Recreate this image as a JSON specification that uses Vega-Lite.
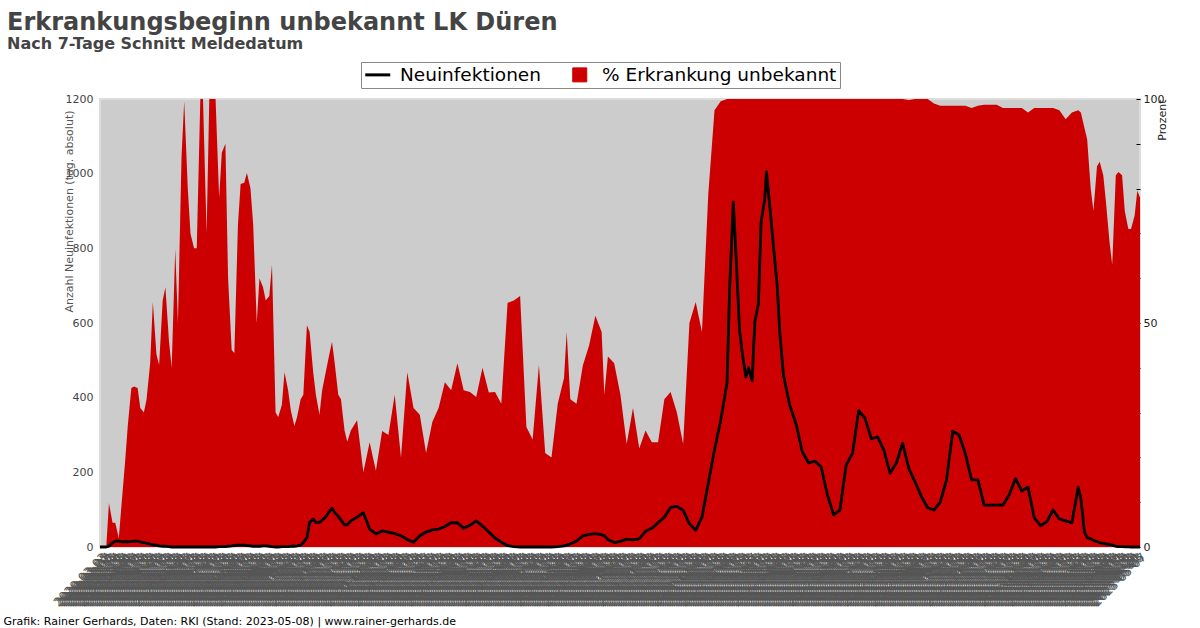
{
 "$schema": "https://vega.github.io/schema/vega-lite/v6.json",
 "width": 1040, "height": 448,
 "autosize": {"type": "none"},
 "padding": {"left": 100, "top": 99, "right": 60, "bottom": 81},
 "background": "white",
 "config": {"font": "DejaVu Sans", "view": {"fill": "#cccccc", "stroke": "#dddddd", "strokeWidth": 2}},
 "title": {"text": "Erkrankungsbeginn unbekannt LK Düren", "subtitle": "Nach 7-Tage Schnitt Meldedatum", "anchor": "start", "frame": "group", "dx": -93, "fontSize": 24, "fontWeight": "bold", "color": "#444444", "subtitleFontSize": 16, "subtitleFontWeight": "bold", "subtitleColor": "#444444", "subtitlePadding": 1, "offset": 10},
 "data": {"values": [
{"datum":"2020-03-02","prozent":0,"neu":0},{"datum":"2020-03-05","prozent":0,"neu":0},{"datum":"2020-03-09","prozent":0,"neu":0},{"datum":"2020-03-12","prozent":9.8,"neu":2},
{"datum":"2020-03-16","prozent":5.4,"neu":11},{"datum":"2020-03-19","prozent":5.4,"neu":16},{"datum":"2020-03-23","prozent":2,"neu":16},{"datum":"2020-03-26","prozent":9.4,"neu":14},
{"datum":"2020-03-30","prozent":19,"neu":14},{"datum":"2020-04-02","prozent":27,"neu":14},{"datum":"2020-04-06","prozent":35.5,"neu":15},{"datum":"2020-04-09","prozent":35.8,"neu":16},
{"datum":"2020-04-13","prozent":35.5,"neu":16},{"datum":"2020-04-16","prozent":31,"neu":14},{"datum":"2020-04-20","prozent":30,"neu":12},{"datum":"2020-04-23","prozent":33,"neu":10},
{"datum":"2020-04-27","prozent":41,"neu":8},{"datum":"2020-04-30","prozent":54.7,"neu":6},{"datum":"2020-05-04","prozent":43,"neu":5},{"datum":"2020-05-07","prozent":40.6,"neu":3},
{"datum":"2020-05-11","prozent":55,"neu":2},{"datum":"2020-05-14","prozent":58,"neu":2},{"datum":"2020-05-18","prozent":46,"neu":1},{"datum":"2020-05-21","prozent":40,"neu":0},
{"datum":"2020-05-25","prozent":66.5,"neu":0},{"datum":"2020-05-28","prozent":50,"neu":0},{"datum":"2020-06-01","prozent":87,"neu":0},{"datum":"2020-06-04","prozent":99.5,"neu":0},
{"datum":"2020-06-08","prozent":80,"neu":0},{"datum":"2020-06-11","prozent":70,"neu":0},{"datum":"2020-06-15","prozent":66.7,"neu":0},{"datum":"2020-06-18","prozent":66.7,"neu":0},
{"datum":"2020-06-22","prozent":100,"neu":0},{"datum":"2020-06-25","prozent":100,"neu":0},{"datum":"2020-06-29","prozent":70,"neu":0},{"datum":"2020-07-02","prozent":100,"neu":0},
{"datum":"2020-07-06","prozent":100,"neu":0},{"datum":"2020-07-09","prozent":100,"neu":0},{"datum":"2020-07-13","prozent":78,"neu":1},{"datum":"2020-07-16","prozent":88,"neu":1},
{"datum":"2020-07-20","prozent":90,"neu":1},{"datum":"2020-07-23","prozent":60,"neu":2},{"datum":"2020-07-27","prozent":44,"neu":3},{"datum":"2020-07-30","prozent":43.3,"neu":4},
{"datum":"2020-08-03","prozent":72,"neu":5},{"datum":"2020-08-06","prozent":81,"neu":5},{"datum":"2020-08-10","prozent":81.3,"neu":5},{"datum":"2020-08-13","prozent":83.5,"neu":4},
{"datum":"2020-08-17","prozent":80,"neu":3},{"datum":"2020-08-20","prozent":72,"neu":2},{"datum":"2020-08-24","prozent":50,"neu":2},{"datum":"2020-08-27","prozent":60,"neu":2},
{"datum":"2020-08-31","prozent":58,"neu":3},{"datum":"2020-09-03","prozent":55,"neu":3},{"datum":"2020-09-07","prozent":56,"neu":2},{"datum":"2020-09-10","prozent":63,"neu":1},
{"datum":"2020-09-14","prozent":30,"neu":0},{"datum":"2020-09-17","prozent":29,"neu":0},{"datum":"2020-09-21","prozent":31.7,"neu":1},{"datum":"2020-09-24","prozent":39,"neu":1},
{"datum":"2020-09-28","prozent":35,"neu":1},{"datum":"2020-10-01","prozent":30.5,"neu":2},{"datum":"2020-10-05","prozent":27,"neu":2},{"datum":"2020-10-08","prozent":29,"neu":3},
{"datum":"2020-10-12","prozent":33,"neu":5},{"datum":"2020-10-15","prozent":34,"neu":12},{"datum":"2020-10-19","prozent":49.5,"neu":25},{"datum":"2020-10-22","prozent":48,"neu":66},
{"datum":"2020-10-26","prozent":39,"neu":75},{"datum":"2020-10-29","prozent":34,"neu":66},{"datum":"2020-11-02","prozent":29.5,"neu":66},{"datum":"2020-11-05","prozent":35,"neu":72},
{"datum":"2020-11-09","prozent":39,"neu":80},{"datum":"2020-11-12","prozent":42,"neu":92},{"datum":"2020-11-16","prozent":45.8,"neu":104},{"datum":"2020-11-19","prozent":41,"neu":92},
{"datum":"2020-11-23","prozent":34,"neu":82},{"datum":"2020-11-26","prozent":33,"neu":72},{"datum":"2020-11-30","prozent":26,"neu":59},{"datum":"2020-12-03","prozent":23.5,"neu":59},
{"datum":"2020-12-07","prozent":26,"neu":70},{"datum":"2020-12-14","prozent":28.3,"neu":80},{"datum":"2020-12-21","prozent":16.7,"neu":92},{"datum":"2020-12-28","prozent":23.4,"neu":48},
{"datum":"2021-01-04","prozent":17,"neu":35},{"datum":"2021-01-11","prozent":25.9,"neu":43},{"datum":"2021-01-18","prozent":25,"neu":40},{"datum":"2021-01-25","prozent":34,"neu":36},
{"datum":"2021-02-01","prozent":19.9,"neu":30},{"datum":"2021-02-08","prozent":39,"neu":20},{"datum":"2021-02-15","prozent":31,"neu":13},{"datum":"2021-02-22","prozent":29.5,"neu":30},
{"datum":"2021-03-01","prozent":21,"neu":40},{"datum":"2021-03-08","prozent":27.9,"neu":46},{"datum":"2021-03-15","prozent":31,"neu":48},{"datum":"2021-03-22","prozent":36.8,"neu":55},
{"datum":"2021-03-29","prozent":35,"neu":65},{"datum":"2021-04-05","prozent":41,"neu":65},{"datum":"2021-04-12","prozent":35,"neu":50},{"datum":"2021-04-19","prozent":34.6,"neu":58},
{"datum":"2021-04-26","prozent":33.5,"neu":70},{"datum":"2021-05-03","prozent":40,"neu":56},{"datum":"2021-05-10","prozent":34.5,"neu":40},{"datum":"2021-05-17","prozent":34.6,"neu":24},
{"datum":"2021-05-24","prozent":32,"neu":13},{"datum":"2021-05-31","prozent":54.5,"neu":4},{"datum":"2021-06-07","prozent":55,"neu":1},{"datum":"2021-06-14","prozent":56,"neu":0},
{"datum":"2021-06-21","prozent":26.8,"neu":0},{"datum":"2021-06-28","prozent":24,"neu":0},{"datum":"2021-07-05","prozent":40.6,"neu":0},{"datum":"2021-07-12","prozent":21,"neu":0},
{"datum":"2021-07-19","prozent":20,"neu":0},{"datum":"2021-07-26","prozent":32,"neu":1},{"datum":"2021-08-02","prozent":37.7,"neu":3},{"datum":"2021-08-05","prozent":48,"neu":5},
{"datum":"2021-08-09","prozent":33,"neu":8},{"datum":"2021-08-16","prozent":32,"neu":16},{"datum":"2021-08-23","prozent":40.5,"neu":30},{"datum":"2021-08-30","prozent":45,"neu":34},
{"datum":"2021-09-06","prozent":51.6,"neu":36},{"datum":"2021-09-13","prozent":48,"neu":33},{"datum":"2021-09-16","prozent":34,"neu":30},{"datum":"2021-09-20","prozent":42.5,"neu":20},
{"datum":"2021-09-27","prozent":41,"neu":12},{"datum":"2021-10-04","prozent":34,"neu":15},{"datum":"2021-10-11","prozent":23,"neu":21},{"datum":"2021-10-18","prozent":31,"neu":19},
{"datum":"2021-10-25","prozent":22,"neu":22},{"datum":"2021-11-01","prozent":26,"neu":42},{"datum":"2021-11-08","prozent":23.4,"neu":50},{"datum":"2021-11-15","prozent":23.4,"neu":65},
{"datum":"2021-11-22","prozent":33,"neu":80},{"datum":"2021-11-29","prozent":34.6,"neu":106},{"datum":"2021-12-06","prozent":30,"neu":109},{"datum":"2021-12-13","prozent":23,"neu":98},
{"datum":"2021-12-20","prozent":50,"neu":62},{"datum":"2021-12-27","prozent":54.7,"neu":45},{"datum":"2022-01-03","prozent":48,"neu":80},{"datum":"2022-01-10","prozent":78.6,"neu":170},
{"datum":"2022-01-17","prozent":97.5,"neu":260},{"datum":"2022-01-24","prozent":99.5,"neu":340},{"datum":"2022-01-31","prozent":100,"neu":440},{"datum":"2022-02-03","prozent":100,"neu":700},
{"datum":"2022-02-07","prozent":100,"neu":924},{"datum":"2022-02-10","prozent":100,"neu":780},{"datum":"2022-02-14","prozent":100,"neu":580},{"datum":"2022-02-17","prozent":100,"neu":520},
{"datum":"2022-02-21","prozent":100,"neu":455},{"datum":"2022-02-24","prozent":100,"neu":480},{"datum":"2022-02-28","prozent":100,"neu":445},{"datum":"2022-03-03","prozent":100,"neu":603},
{"datum":"2022-03-07","prozent":100,"neu":650},{"datum":"2022-03-10","prozent":100,"neu":870},{"datum":"2022-03-14","prozent":100,"neu":930},{"datum":"2022-03-16","prozent":100,"neu":1005},
{"datum":"2022-03-21","prozent":100,"neu":880},{"datum":"2022-03-24","prozent":100,"neu":800},{"datum":"2022-03-28","prozent":100,"neu":700},{"datum":"2022-03-31","prozent":100,"neu":570},
{"datum":"2022-04-04","prozent":100,"neu":460},{"datum":"2022-04-11","prozent":100,"neu":380},{"datum":"2022-04-18","prozent":100,"neu":330},{"datum":"2022-04-25","prozent":100,"neu":255},
{"datum":"2022-05-02","prozent":100,"neu":225},{"datum":"2022-05-09","prozent":100,"neu":230},{"datum":"2022-05-16","prozent":100,"neu":215},{"datum":"2022-05-23","prozent":100,"neu":140},
{"datum":"2022-05-30","prozent":100,"neu":86},{"datum":"2022-06-06","prozent":100,"neu":99},{"datum":"2022-06-13","prozent":100,"neu":220},{"datum":"2022-06-20","prozent":100,"neu":250},
{"datum":"2022-06-27","prozent":100,"neu":365},{"datum":"2022-07-04","prozent":100,"neu":345},{"datum":"2022-07-11","prozent":100,"neu":290},{"datum":"2022-07-18","prozent":100,"neu":295},
{"datum":"2022-07-25","prozent":100,"neu":260},{"datum":"2022-08-01","prozent":100,"neu":198},{"datum":"2022-08-08","prozent":100,"neu":225},{"datum":"2022-08-15","prozent":100,"neu":278},
{"datum":"2022-08-22","prozent":99.8,"neu":210},{"datum":"2022-08-29","prozent":100,"neu":174},{"datum":"2022-09-05","prozent":100,"neu":135},{"datum":"2022-09-12","prozent":100,"neu":105},
{"datum":"2022-09-19","prozent":99,"neu":99},{"datum":"2022-09-26","prozent":98.5,"neu":120},{"datum":"2022-10-03","prozent":98.5,"neu":180},{"datum":"2022-10-10","prozent":98.5,"neu":310},
{"datum":"2022-10-17","prozent":98.5,"neu":300},{"datum":"2022-10-24","prozent":98.5,"neu":250},{"datum":"2022-10-31","prozent":98,"neu":180},{"datum":"2022-11-07","prozent":98.5,"neu":180},
{"datum":"2022-11-14","prozent":98.7,"neu":112},{"datum":"2022-11-21","prozent":98.7,"neu":112},{"datum":"2022-11-28","prozent":98.7,"neu":113},{"datum":"2022-12-05","prozent":98,"neu":112},
{"datum":"2022-12-12","prozent":98,"neu":140},{"datum":"2022-12-19","prozent":98,"neu":183},{"datum":"2022-12-26","prozent":98,"neu":150},{"datum":"2023-01-02","prozent":97,"neu":160},
{"datum":"2023-01-09","prozent":98,"neu":78},{"datum":"2023-01-16","prozent":98,"neu":57},{"datum":"2023-01-23","prozent":98,"neu":68},{"datum":"2023-01-30","prozent":98,"neu":99},
{"datum":"2023-02-06","prozent":97.5,"neu":75},{"datum":"2023-02-13","prozent":95.5,"neu":70},{"datum":"2023-02-20","prozent":97,"neu":65},{"datum":"2023-02-27","prozent":97.5,"neu":160},
{"datum":"2023-03-02","prozent":97,"neu":130},{"datum":"2023-03-06","prozent":93.5,"neu":40},{"datum":"2023-03-09","prozent":91,"neu":25},{"datum":"2023-03-13","prozent":80,"neu":22},
{"datum":"2023-03-16","prozent":75,"neu":18},{"datum":"2023-03-20","prozent":85,"neu":14},{"datum":"2023-03-23","prozent":86,"neu":12},{"datum":"2023-03-27","prozent":83,"neu":10},
{"datum":"2023-03-30","prozent":77,"neu":8},{"datum":"2023-04-03","prozent":68,"neu":7},{"datum":"2023-04-06","prozent":63,"neu":5},{"datum":"2023-04-10","prozent":83,"neu":2},
{"datum":"2023-04-13","prozent":83.7,"neu":1},{"datum":"2023-04-17","prozent":83,"neu":1},{"datum":"2023-04-20","prozent":75,"neu":0.5},{"datum":"2023-04-24","prozent":71,"neu":0.5},
{"datum":"2023-04-27","prozent":71,"neu":0},{"datum":"2023-05-01","prozent":74,"neu":0},{"datum":"2023-05-04","prozent":79.5,"neu":0},{"datum":"2023-05-07","prozent":78,"neu":0}
 ]},
 "encoding": {
  "x": {"field": "datum", "type": "temporal", "scale": {"nice": false},
   "axis": {"title": "Grafik: Rainer Gerhards, Daten: RKI (Stand: 2023-05-08) | www.rainer-gerhards.de",
    "titleX": -97, "titleY": 74, "titleAlign": "left", "titleBaseline": "middle", "titleAngle": 0, "titleFontSize": 11, "titleFontWeight": "normal", "titleColor": "#000000",
    "format": "%Y-%m-%d", "tickCount": {"interval": "day", "step": 2}, "labelAngle": -45, "labelFontSize": 12, "labelColor": "#555555",
    "labelOverlap": false, "labelFlush": false, "labelBound": false, "labelPadding": 4, "ticks": false, "domain": false, "grid": false}}
 },
 "layer": [
  {"mark": {"type": "area", "interpolate": "linear", "opacity": 1},
   "encoding": {
    "y": {"field": "prozent", "type": "quantitative", "scale": {"domain": [0, 100], "nice": false},
     "axis": {"orient": "right", "title": "Prozent", "values": [0,10,20,30,40,50,60,70,80,90,100], "labelExpr": "datum.value % 50 === 0 ? datum.label : ''",
      "grid": false, "domain": false, "ticks": true, "tickSize": -4, "tickColor": "#000000", "labelPadding": 7, "labelFontSize": 11, "labelColor": "#222222",
      "titleX": 22, "titleY": 0, "titleAlign": "right", "titleAngle": -90, "titleBaseline": "middle", "titleFontSize": 11, "titleFontWeight": "normal", "titleColor": "#222222"}},
    "color": {"datum": "% Erkrankung unbekannt", "type": "nominal",
     "scale": {"domain": ["Neuinfektionen", "% Erkrankung unbekannt"], "range": ["#000000", "#cc0000"]},
     "legend": {"orient": "none", "legendX": 261, "legendY": -37, "direction": "horizontal", "title": null,
      "labelFontSize": 18.5, "labelColor": "#000000", "labelLimit": 500, "symbolSize": 625, "fillColor": "#ffffff", "strokeColor": "#888888", "padding": 3.5,
      "columnPadding": 25, "labelOffset": 13, "symbolOffset": 4,
      "encode": {"symbols": {"update": {
        "shape": {"signal": "datum.value === 'Neuinfektionen' ? 'stroke' : 'square'"},
        "size": {"signal": "datum.value === 'Neuinfektionen' ? 625 : 196"},
        "fill": {"signal": "datum.value === 'Neuinfektionen' ? 'transparent' : '#cc0000'"},
        "stroke": {"signal": "datum.value === 'Neuinfektionen' ? '#000000' : '#777777'"},
        "strokeWidth": {"signal": "datum.value === 'Neuinfektionen' ? 3 : 1"},
        "opacity": {"value": 1}}}}}}}},
  {"mark": {"type": "line", "strokeWidth": 2.8, "strokeJoin": "round"},
   "encoding": {
    "y": {"field": "neu", "type": "quantitative", "scale": {"domain": [0, 1200], "nice": false},
     "axis": {"orient": "left", "title": "Anzahl Neuinfektionen (tag. absolut)", "values": [0,200,400,600,800,1000,1200], "format": "d",
      "grid": false, "domain": false, "ticks": false, "labelPadding": 7, "labelFontSize": 11, "labelColor": "#444444",
      "titleX": -31, "titleY": 11, "titleAlign": "right", "titleAngle": -90, "titleBaseline": "middle", "titleFontSize": 11, "titleFontWeight": "normal", "titleColor": "#555555"}},
    "color": {"datum": "Neuinfektionen", "type": "nominal",
     "legend": {"orient": "none", "legendX": 261, "legendY": -37, "direction": "horizontal", "title": null,
      "labelFontSize": 18.5, "labelColor": "#000000", "labelLimit": 500, "symbolSize": 625, "fillColor": "#ffffff", "strokeColor": "#888888", "padding": 3.5,
      "columnPadding": 25, "labelOffset": 13, "symbolOffset": 4,
      "encode": {"symbols": {"update": {
        "shape": {"signal": "datum.value === 'Neuinfektionen' ? 'stroke' : 'square'"},
        "size": {"signal": "datum.value === 'Neuinfektionen' ? 625 : 196"},
        "fill": {"signal": "datum.value === 'Neuinfektionen' ? 'transparent' : '#cc0000'"},
        "stroke": {"signal": "datum.value === 'Neuinfektionen' ? '#000000' : '#777777'"},
        "strokeWidth": {"signal": "datum.value === 'Neuinfektionen' ? 3 : 1"},
        "opacity": {"value": 1}}}}}}}}
 ],
 "resolve": {"scale": {"y": "independent"}}
}
